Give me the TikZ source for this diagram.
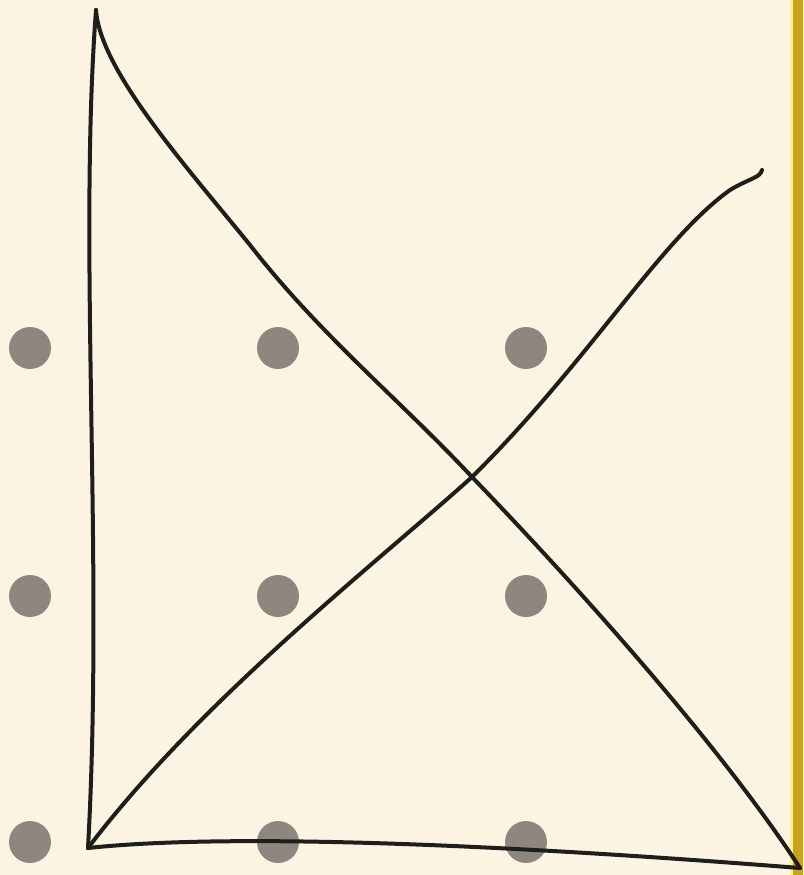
\documentclass[tikz,border=0pt]{standalone}
\definecolor{paper}{HTML}{FBF4E2}
\definecolor{bar}{HTML}{C9A21E}
\definecolor{dotc}{HTML}{8D8780}
\definecolor{ink}{HTML}{1E1E1A}
\begin{document}
\begin{tikzpicture}[x=1pt,y=-1pt,
  dotst/.style={circle,fill=dotc,minimum size=42pt,inner sep=0pt},
  stroke/.style={draw=ink,line width=4pt,line cap=round,line join=round}]
\fill[paper] (0,0) rectangle (803,875);
\useasboundingbox (0,0) rectangle (803,875);
\fill[bar] (793,0) rectangle (803,875);
\fill[yellow!40!paper] (790,0) rectangle (793,875);
\foreach \r/\y in {a/348,b/596,c/842}{
  \foreach \c/\x in {1/30,2/278,3/526}{
    \node[dotst] (d\r\c) at (\x,\y) {};
  }
}
\coordinate (top) at (96,10);
\coordinate (bl) at (88,848);
\coordinate (br) at (800,868);
\coordinate (x) at (472,477);
\coordinate (tr) at (762,170);
\draw[stroke] (top) .. controls (78,250) and (104,560) .. (bl);
\draw[stroke] (bl) .. controls (200,836) and (420,838) .. (br);
\draw[stroke] (top) .. controls (100,70) and (185,165) .. (250,245)
  .. controls (320,335) and (400,400) .. (x)
  .. controls (600,610) and (730,760) .. (br);
\draw[stroke] (bl) .. controls (200,700) and (380,560) .. (x)
  .. controls (590,360) and (660,240) .. (730,190)
  .. controls (750,178) and (760,178) .. (tr);
\end{tikzpicture}
\end{document}
